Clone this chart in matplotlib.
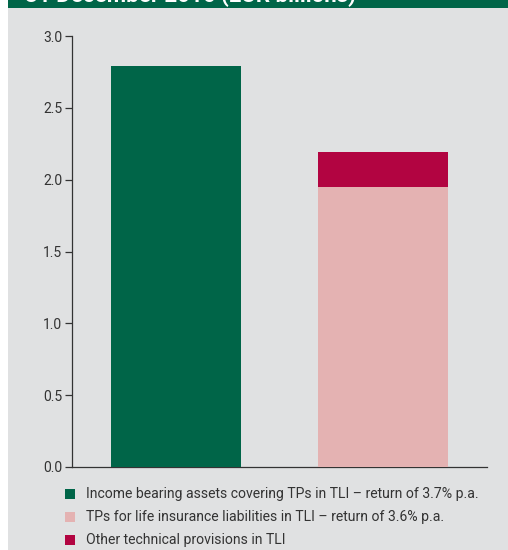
import matplotlib
matplotlib.use("Agg")
import matplotlib.pyplot as plt
from matplotlib.patches import Rectangle

categories = ["Assets", "Liabilities"]
income_assets = [2.79, 0.0]
tp_life = [0.0, 1.95]
other_tp = [0.0, 0.24]
legend_labels = [
    "Income bearing assets covering TPs in TLI \u2013 return of 3.7% p.a.",
    "TPs for life insurance liabilities in TLI \u2013 return of 3.6% p.a.",
    "Other technical provisions in TLI",
]
yticks = [0.0, 0.5, 1.0, 1.5, 2.0, 2.5, 3.0]
title = "31 December 2016 (EUR billions)"

GREEN = "#006548"
PINK = "#E4B2B2"
RED = "#B20441"
BG = "#E0E1E2"
TXT = "#333333"

plt.rcParams['font.family'] = ['Roboto', 'DejaVu Sans']

W, H = 508, 550
fig = plt.figure(figsize=(W / 100, H / 100), dpi=100)
fig.patch.set_facecolor("white")

# gray panel and green banner
fig.patches.append(Rectangle((8 / W, 0), 1 - 8 / W, 1, transform=fig.transFigure,
                             facecolor=BG, edgecolor="none", zorder=-2))
fig.patches.append(Rectangle((8 / W, 1 - 8 / H), 1 - 8 / W, 8 / H, transform=fig.transFigure,
                             facecolor=GREEN, edgecolor="none", zorder=-1))
fig.text(25 / W, 1 - 2 / H, title, color="white", fontsize=16, fontweight="bold",
         va="baseline", ha="left", zorder=2)

ax = fig.add_axes([72 / W, (H - 467) / H, (487 - 72) / W, (467 - 36) / H])
ax.set_facecolor("none")
ax.set_zorder(1)
x = list(range(len(categories)))
width = 0.627
ax.bar(x, income_assets, width=width, color=GREEN, zorder=2)
ax.bar(x, tp_life, width=width, color=PINK, zorder=2)
ax.bar(x, other_tp, width=width, bottom=tp_life, color=RED, zorder=2)

ax.set_xlim(-0.5, 1.5)
ax.set_ylim(0, 3.0)
ax.set_yticks(yticks)
ax.set_yticklabels([f"{v:.1f}" for v in yticks])
ax.set_xticks([])
for s in ["top", "right"]:
    ax.spines[s].set_visible(False)
ax.spines["left"].set_color(TXT)
ax.spines["bottom"].set_color(TXT)
ax.spines["left"].set_linewidth(0.9)
ax.spines["bottom"].set_linewidth(0.9)
ax.spines["bottom"].set_zorder(1)
ax.tick_params(axis="y", direction="out", length=5, width=0.9, color=TXT,
               labelcolor=TXT, labelsize=10, pad=2)

# legend
colors = [GREEN, PINK, RED]
ys = [494, 517, 540]
for c, lab, yy in zip(colors, legend_labels, ys):
    fig.patches.append(Rectangle((65 / W, (H - yy - 5) / H), 10 / W, 10 / H,
                                 transform=fig.transFigure, facecolor=c,
                                 edgecolor="none", zorder=3))
    fig.text(86 / W, (H - yy) / H, lab, color=TXT, fontsize=10.1, va="center",
             ha="left", zorder=3)

fig.savefig("out.png", dpi=100, facecolor=fig.get_facecolor())
